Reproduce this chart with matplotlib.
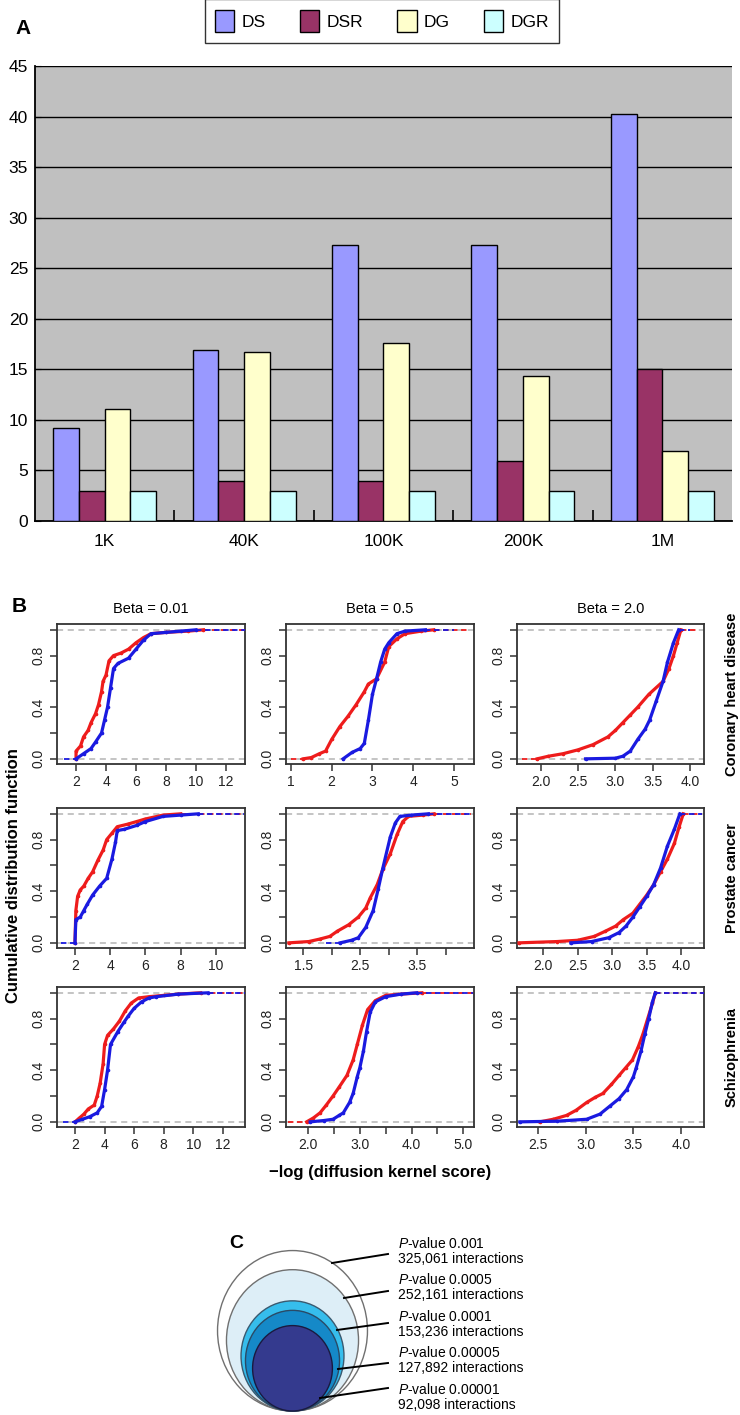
import numpy as np
import matplotlib
matplotlib.use("Agg")
import matplotlib.pyplot as plt
from matplotlib.patches import Patch, Ellipse

plt.rcParams["font.family"] = ["Liberation Sans", "DejaVu Sans"]
plt.rcParams["mathtext.fontset"] = "custom"
plt.rcParams["mathtext.it"] = "Liberation Sans:italic"
plt.rcParams["mathtext.rm"] = "Liberation Sans"

# ---------------- panel A data ----------------
sizes = ["1K", "40K", "100K", "200K", "1M"]
series_names = ["DS", "DSR", "DG", "DGR"]
ds = [9.2, 16.9, 27.3, 27.3, 40.3]
dsr = [3.0, 4.0, 4.0, 5.9, 15.0]
dg = [11.1, 16.7, 17.6, 14.3, 6.9]
dgr = [3.0, 3.0, 3.0, 3.0, 3.0]

# ---------------- panel B data ----------------
col_titles = ["Beta = 0.01", "Beta = 0.5", "Beta = 2.0"]
row_titles = ["Coronary heart disease", "Prostate cancer", "Schizophrenia"]

chd_b001_red = [(2.0, 0.0), (2.0, 0.06), (2.3, 0.1), (2.5, 0.17), (2.8, 0.22), (3.0, 0.28),
                (3.3, 0.35), (3.5, 0.42), (3.7, 0.52), (3.8, 0.6), (4.0, 0.65), (4.2, 0.76),
                (4.5, 0.8), (5.0, 0.82), (5.5, 0.85), (6.0, 0.9), (6.5, 0.94), (7.0, 0.97),
                (8.0, 0.98), (9.5, 0.99), (10.5, 1.0), (13.3, 1.0)]
chd_b001_blue = [(1.2, 0.0), (2.0, 0.0), (2.5, 0.04), (3.0, 0.08), (3.3, 0.13), (3.7, 0.2),
                 (3.9, 0.3), (4.1, 0.4), (4.3, 0.55), (4.5, 0.7), (4.8, 0.74), (5.5, 0.78),
                 (6.0, 0.85), (6.5, 0.92), (7.0, 0.97), (8.0, 0.98), (9.0, 0.99), (10.0, 1.0),
                 (13.3, 1.0)]
chd_b05_red = [(1.0, 0.0), (1.3, 0.0), (1.5, 0.01), (1.7, 0.04), (1.85, 0.06), (2.0, 0.15),
               (2.2, 0.25), (2.4, 0.33), (2.6, 0.42), (2.8, 0.52), (2.9, 0.58), (3.1, 0.62),
               (3.3, 0.75), (3.4, 0.87), (3.6, 0.93), (3.8, 0.97), (4.2, 0.99), (4.5, 1.0),
               (5.4, 1.0)]
chd_b05_blue = [(2.28, 0.0), (2.5, 0.05), (2.7, 0.08), (2.8, 0.12), (2.9, 0.3), (3.0, 0.5),
                (3.1, 0.62), (3.2, 0.75), (3.3, 0.85), (3.4, 0.9), (3.6, 0.97), (3.8, 0.99),
                (4.3, 1.0), (5.0, 1.0)]
chd_b2_red = [(1.75, 0.0), (1.95, 0.0), (2.1, 0.02), (2.3, 0.04), (2.5, 0.07), (2.7, 0.11),
              (2.9, 0.17), (3.0, 0.22), (3.1, 0.28), (3.2, 0.34), (3.3, 0.4), (3.45, 0.5),
              (3.64, 0.6), (3.72, 0.7), (3.78, 0.8), (3.83, 0.9), (3.88, 1.0), (4.1, 1.0)]
chd_b2_blue = [(2.6, 0.0), (3.0, 0.005), (3.1, 0.02), (3.2, 0.06), (3.3, 0.15), (3.4, 0.23),
               (3.46, 0.3), (3.55, 0.45), (3.64, 0.6), (3.7, 0.75), (3.78, 0.9), (3.85, 1.0),
               (4.0, 1.0)]

pc_b001_red = [(2.0, 0.0), (2.05, 0.25), (2.15, 0.36), (2.3, 0.41), (2.5, 0.44), (2.75, 0.5),
               (3.0, 0.55), (3.3, 0.64), (3.6, 0.72), (3.8, 0.8), (4.1, 0.85), (4.4, 0.9),
               (5.0, 0.92), (5.5, 0.94), (6.0, 0.96), (7.0, 0.99), (8.0, 1.0), (11.6, 1.0)]
pc_b001_blue = [(1.2, 0.0), (2.0, 0.0), (2.05, 0.18), (2.3, 0.2), (2.5, 0.25), (2.7, 0.3),
                (3.0, 0.37), (3.4, 0.44), (3.8, 0.5), (4.1, 0.65), (4.3, 0.78), (4.4, 0.87),
                (4.8, 0.88), (5.5, 0.91), (6.0, 0.94), (7.0, 0.98), (8.0, 0.99), (9.0, 1.0),
                (11.6, 1.0)]
pc_b05_red = [(1.25, 0.0), (1.6, 0.01), (1.8, 0.03), (1.97, 0.05), (2.1, 0.09), (2.3, 0.14),
              (2.47, 0.2), (2.6, 0.27), (2.68, 0.35), (2.8, 0.45), (2.9, 0.57), (3.03, 0.69),
              (3.15, 0.84), (3.25, 0.94), (3.35, 0.98), (3.6, 0.99), (3.8, 1.0), (4.45, 1.0)]
pc_b05_blue = [(1.9, 0.0), (2.15, 0.0), (2.35, 0.02), (2.47, 0.04), (2.6, 0.12), (2.73, 0.25),
               (2.82, 0.42), (2.9, 0.58), (3.03, 0.82), (3.12, 0.93), (3.2, 0.98), (3.4, 0.99),
               (3.7, 1.0), (4.45, 1.0)]
pc_b2_red = [(1.65, 0.0), (2.2, 0.01), (2.5, 0.02), (2.74, 0.05), (2.9, 0.09), (3.05, 0.13),
             (3.16, 0.18), (3.3, 0.23), (3.4, 0.3), (3.5, 0.37), (3.6, 0.45), (3.7, 0.55),
             (3.8, 0.65), (3.9, 0.77), (3.97, 0.9), (4.03, 1.0), (4.3, 1.0)]
pc_b2_blue = [(2.4, 0.0), (2.7, 0.01), (2.95, 0.04), (3.1, 0.08), (3.2, 0.13), (3.3, 0.2),
              (3.4, 0.28), (3.5, 0.36), (3.6, 0.45), (3.7, 0.58), (3.8, 0.75), (3.9, 0.88),
              (3.98, 1.0), (4.3, 1.0)]

sz_b001_red = [(2.0, 0.0), (2.3, 0.03), (2.6, 0.06), (2.9, 0.1), (3.3, 0.13), (3.5, 0.2),
               (3.7, 0.3), (3.9, 0.45), (4.0, 0.6), (4.2, 0.67), (4.6, 0.72), (5.0, 0.78),
               (5.4, 0.86), (5.8, 0.92), (6.3, 0.96), (7.0, 0.97), (8.0, 0.98), (9.0, 0.99),
               (10.5, 1.0), (13.5, 1.0)]
sz_b001_blue = [(1.2, 0.0), (2.0, 0.0), (2.5, 0.02), (3.0, 0.04), (3.5, 0.07), (3.8, 0.12),
                (4.0, 0.25), (4.2, 0.4), (4.4, 0.6), (4.9, 0.7), (5.3, 0.77), (5.6, 0.82),
                (6.0, 0.88), (6.5, 0.93), (7.0, 0.96), (7.5, 0.97), (9.0, 0.99), (11.0, 1.0),
                (13.5, 1.0)]
sz_b05_red = [(1.6, 0.0), (1.97, 0.0), (2.1, 0.03), (2.23, 0.07), (2.35, 0.13), (2.48, 0.2),
              (2.6, 0.27), (2.75, 0.36), (2.87, 0.48), (2.95, 0.6), (3.05, 0.75), (3.15, 0.87),
              (3.3, 0.94), (3.5, 0.98), (3.8, 0.99), (4.2, 1.0), (5.2, 1.0)]
sz_b05_blue = [(2.04, 0.0), (2.3, 0.01), (2.48, 0.02), (2.6, 0.05), (2.68, 0.07), (2.8, 0.15),
               (2.87, 0.22), (2.95, 0.35), (3.0, 0.42), (3.07, 0.55), (3.13, 0.7), (3.2, 0.85),
               (3.3, 0.93), (3.5, 0.97), (3.8, 0.99), (4.1, 1.0), (5.2, 1.0)]
sz_b2_red = [(2.3, 0.0), (2.52, 0.0), (2.66, 0.02), (2.8, 0.05), (2.9, 0.09), (3.01, 0.15),
             (3.1, 0.19), (3.18, 0.22), (3.27, 0.29), (3.35, 0.36), (3.42, 0.42), (3.49, 0.48),
             (3.55, 0.58), (3.6, 0.68), (3.65, 0.8), (3.7, 0.92), (3.73, 1.0), (4.24, 1.0)]
sz_b2_blue = [(2.31, 0.0), (2.7, 0.005), (3.01, 0.02), (3.15, 0.06), (3.25, 0.12), (3.35, 0.18),
              (3.43, 0.25), (3.5, 0.35), (3.53, 0.42), (3.58, 0.55), (3.62, 0.68), (3.66, 0.8),
              (3.7, 0.93), (3.73, 1.0), (4.24, 1.0)]

# ---------------- panel C data ----------------
p_values = ["0.001", "0.0005", "0.0001", "0.00005", "0.00001"]
interactions = [325061, 252161, 153236, 127892, 92098]

# ---------------- layout helpers ----------------
W, H = 740, 1415
fig = plt.figure(figsize=(W / 100, H / 100), dpi=100)


def box(l, t, r, b):
    return [l / W, 1 - b / H, (r - l) / W, (b - t) / H]


# ================= panel A =================
axa = fig.add_axes(box(35, 66, 732, 521))
axa.set_facecolor("#C0C0C0")
x = np.arange(len(sizes))
bw = 0.185
colors_a = ["#9999FF", "#993366", "#FFFFCC", "#CCFFFF"]
for k, vals in enumerate([ds, dsr, dg, dgr]):
    axa.bar(x + (k - 1.5) * bw, vals, bw, color=colors_a[k], edgecolor="black",
            linewidth=1.0, zorder=3, label=series_names[k])
axa.set_xlim(-0.5, len(sizes) - 0.5)
axa.set_ylim(0, 45)
axa.set_yticks(np.arange(0, 46, 5))
axa.yaxis.grid(True, color="black", linewidth=1.0)
axa.set_axisbelow(True)
axa.set_xticks(x)
axa.set_xticklabels(sizes, fontsize=12.5)
axa.set_xticks(x[:-1] + 0.5, minor=True)
axa.tick_params(axis="x", which="major", length=0, pad=9)
axa.tick_params(axis="x", which="minor", direction="in", length=8, width=1.2)
axa.tick_params(axis="y", direction="in", length=4, labelsize=12.5, pad=5)
for s in ["top", "right"]:
    axa.spines[s].set_visible(False)
for s in ["left", "bottom"]:
    axa.spines[s].set_linewidth(1.3)
leg = fig.legend(handles=[Patch(facecolor=c, edgecolor="black", label=n)
                          for c, n in zip(colors_a, series_names)],
                 loc="center", bbox_to_anchor=(382 / W, 1 - 21 / H), ncol=4,
                 fontsize=12.5, frameon=True, fancybox=False, edgecolor="black",
                 handlelength=1.1, handleheight=1.6, handletextpad=0.4,
                 columnspacing=2.0, borderpad=0.6)
leg.get_frame().set_linewidth(1.0)
fig.text(15 / W, 1 - 28 / H, "A", fontsize=15, fontweight="bold", va="center")

# ================= panel B =================
curves = [[(chd_b001_red, chd_b001_blue), (chd_b05_red, chd_b05_blue), (chd_b2_red, chd_b2_blue)],
          [(pc_b001_red, pc_b001_blue), (pc_b05_red, pc_b05_blue), (pc_b2_red, pc_b2_blue)],
          [(sz_b001_red, sz_b001_blue), (sz_b05_red, sz_b05_blue), (sz_b2_red, sz_b2_blue)]]
xlims = [[(0.73, 13.27), (0.88, 5.49), (1.68, 4.19)],
         [(0.98, 11.65), (1.2, 4.5), (1.62, 4.33)],
         [(0.78, 13.5), (1.57, 5.21), (2.28, 4.24)]]
xticks = [[([2, 4, 6, 8, 10, 12], None), ([1, 2, 3, 4, 5], None),
           ([2.0, 2.5, 3.0, 3.5, 4.0], ["2.0", "2.5", "3.0", "3.5", "4.0"])],
          [([2, 4, 6, 8, 10], None),
           ([1.5, 2.0, 2.5, 3.0, 3.5, 4.0], ["1.5", "", "2.5", "", "3.5", ""]),
           ([2.0, 2.5, 3.0, 3.5, 4.0], ["2.0", "2.5", "3.0", "3.5", "4.0"])],
         [([2, 4, 6, 8, 10, 12], None),
          ([2.0, 2.5, 3.0, 3.5, 4.0, 4.5, 5.0], ["2.0", "", "3.0", "", "4.0", "", "5.0"]),
          ([2.5, 3.0, 3.5, 4.0], ["2.5", "3.0", "3.5", "4.0"])]]
col_px = [(57, 245), (286, 474), (517, 704)]
row_px = [(624, 764), (808, 948), (987, 1127)]
red, blue = "#EE1C1C", "#1A1AE0"
dark = "#333333"


def draw_ecdf(ax, pts, color):
    xs, ys = np.array(pts).T
    start = 1 if ys[0] == ys[1] else 0
    ax.plot(xs[start:-1], ys[start:-1], color=color, lw=2.3, zorder=3,
            marker="o", markersize=1.6, solid_joinstyle="round")
    if start:
        ax.plot(xs[:2], ys[:2], color=color, lw=1.3, ls=(0, (3, 2)), zorder=3)
    ax.plot(xs[-2:], ys[-2:], color=color, lw=1.3, ls=(0, (3, 2)), zorder=3)


for r in range(3):
    for c in range(3):
        l, rr = col_px[c]
        t, b = row_px[r]
        ax = fig.add_axes(box(l, t, rr, b))
        ax.axhline(0, color="#B4B4B4", lw=1.1, ls=(0, (4, 3)), zorder=1)
        ax.axhline(1, color="#B4B4B4", lw=1.1, ls=(0, (4, 3)), zorder=1)
        red_pts, blue_pts = curves[r][c]
        draw_ecdf(ax, red_pts, red)
        draw_ecdf(ax, blue_pts, blue)
        ax.set_xlim(*xlims[r][c])
        ax.set_ylim(-0.04, 1.045)
        ax.set_yticks([0, 0.2, 0.4, 0.6, 0.8, 1.0])
        ax.set_yticklabels(["0.0", "", "0.4", "", "0.8", ""], rotation=90, va="center")
        tk, lb = xticks[r][c]
        ax.set_xticks(tk)
        if lb is not None:
            ax.set_xticklabels(lb)
        ax.tick_params(direction="out", length=5, width=1.1, color=dark,
                       labelsize=10, labelcolor="#222222", pad=3)
        for s in ax.spines.values():
            s.set_color(dark)
            s.set_linewidth(1.3)
        if r == 0:
            ax.set_title(col_titles[c], fontsize=10.5, pad=8)
        if c == 2:
            fig.text(732 / W, 1 - ((t + b) / 2) / H, row_titles[r], rotation=90,
                     fontsize=10.5, fontweight="bold", ha="center", va="center")

fig.text(12 / W, 1 - 606 / H, "B", fontsize=15, fontweight="bold", va="center")
fig.text(14 / W, 1 - 876 / H, "Cumulative distribution function", rotation=90,
         fontsize=12, fontweight="bold", ha="center", va="center")
fig.text(380 / W, 1 - 1173 / H, "\u2212log (diffusion kernel score)", fontsize=12,
         fontweight="bold", ha="center", va="center")

# ================= panel C =================
axc = fig.add_axes(box(200, 1225, 740, 1415))
axc.set_xlim(200, 740)
axc.set_ylim(1415, 1225)
axc.axis("off")
fills = ["#FFFFFF", "#DDEEF7", "#36BDEC", "#1589C8", "#343A8E"]
edges = ["#707070", "#707070", "#3A5A70", "#2A4A66", "#1A1A40"]
bottom, cx = 1411, 292.5
for k, n in enumerate(interactions):
    w = 0.263 * np.sqrt(n)
    h = 1.07 * w
    axc.add_patch(Ellipse((cx, bottom - h / 2), w, h, facecolor=fills[k],
                          edgecolor=edges[k], lw=1.0, clip_on=False, zorder=2 + k))
leader_start = [(388, 1254), (388, 1291), (388, 1323), (388, 1363), (388, 1388)]
leader_end = [(332, 1263), (344, 1298), (337, 1330), (338, 1369), (320, 1398)]
label_y = [1243, 1279, 1316, 1352, 1389]
for k in range(len(p_values)):
    (x0, y0), (x1, y1) = leader_start[k], leader_end[k]
    axc.plot([x0, x1], [y0, y1], color="black", lw=1.4, zorder=10, clip_on=False)
    axc.text(398, label_y[k], "$P$-value " + p_values[k], fontsize=10, va="center",
             clip_on=False)
    axc.text(398, label_y[k] + 16, f"{interactions[k]:,} interactions", fontsize=10,
             va="center", clip_on=False)
fig.text(229 / W, 1 - 1243 / H, "C", fontsize=14, fontweight="bold", va="center")

fig.savefig("out.png", dpi=100)
